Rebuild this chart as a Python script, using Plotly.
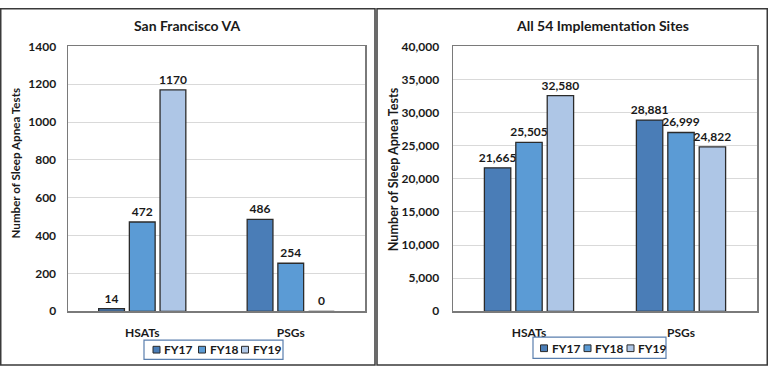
import plotly.graph_objects as go

categories = ["HSATs", "PSGs"]
series_names = ["FY17", "FY18", "FY19"]
sf_values = {"FY17": [14, 486], "FY18": [472, 254], "FY19": [1170, 0]}
all_values = {"FY17": [21665, 28881], "FY18": [25505, 26999], "FY19": [32580, 24822]}
colors = {"FY17": "#4a7db7", "FY18": "#5b9bd5", "FY19": "#aec6e6"}
left_title = "San Francisco VA"
right_title = "All 54 Implementation Sites"
y_title = "Number of Sleep Apnea Tests"

W, H = 768, 373
FONT = "Lato"
TXT = "#1a1a1a"

def px(x):
    return x / W

def py(y):
    return 1 - y / H

fig = go.Figure()
for s in series_names:
    fig.add_trace(go.Bar(
        x=categories, y=sf_values[s], name=s, xaxis="x", yaxis="y",
        marker=dict(color=colors[s], line=dict(color="#2b2b2b", width=1.3)),
        texttemplate="%{y}", textposition="outside", constraintext="none",
        cliponaxis=False, showlegend=False,
        textfont=dict(family=FONT, size=12, color=TXT, weight="bold"),
    ))
for s in series_names:
    fig.add_trace(go.Bar(
        x=categories, y=all_values[s], name=s, xaxis="x2", yaxis="y2",
        marker=dict(color=colors[s], line=dict(color="#2b2b2b", width=1.3)),
        texttemplate="%{y:,}", textposition="outside", constraintext="none",
        cliponaxis=False, showlegend=False,
        textfont=dict(family=FONT, size=12, color=TXT, weight="bold"),
    ))

axis_common = dict(
    showline=True, mirror=True, linecolor="#7a7a7a", linewidth=1.5,
    tickfont=dict(family=FONT, size=12, color=TXT, weight="bold"),
    fixedrange=True,
)
fig.update_layout(
    width=W, height=H,
    margin=dict(l=0, r=0, t=0, b=0),
    paper_bgcolor="white", plot_bgcolor="white",
    barmode="group", bargap=0.38, bargroupgap=0.16,
    showlegend=False,
    xaxis=dict(domain=[px(68), px(365)], anchor="y", ticklabelstandoff=10, **axis_common),
    yaxis=dict(domain=[py(316), py(40)], anchor="x", range=[0, 1400], dtick=200,
               showgrid=True, gridcolor="#d9d9d9", gridwidth=1, ticklabelstandoff=8,
               zeroline=False, **axis_common),
    xaxis2=dict(domain=[px(453), px(757)], anchor="y2", ticklabelstandoff=10, **axis_common),
    yaxis2=dict(domain=[py(316), py(40)], anchor="x2", range=[0, 40000], dtick=5000,
                tickformat=",", showgrid=True, gridcolor="#d9d9d9", gridwidth=1,
                ticklabelstandoff=10, zeroline=False, **axis_common),
)

shapes = []
# panel borders
shapes.append(dict(type="rect", xref="paper", yref="paper", x0=px(0.75), x1=px(375), y0=py(372), y1=py(0.75),
                   line=dict(color="#3a3a3a", width=1.5)))
shapes.append(dict(type="rect", xref="paper", yref="paper", x0=px(377), x1=px(767.25), y0=py(372), y1=py(0.75),
                   line=dict(color="#3a3a3a", width=1.5)))

annotations = []
def label(text, x, y, size, angle=0, xanchor="center"):
    annotations.append(dict(text=text, x=px(x), y=py(y), xref="paper", yref="paper", showarrow=False,
                            xanchor=xanchor, yanchor="middle", textangle=angle,
                            font=dict(family=FONT, size=size, color=TXT, weight="bold")))

label(left_title, 187, 18, 14)
label(right_title, 602, 18, 14)
label(y_title, 15, 162, 11.6, angle=-90)
label(y_title, 393, 168, 12.6, angle=-90)

# manual legends
def legend(box, sq_lefts, cy):
    x0, x1, y0, y1 = box
    shapes.append(dict(type="rect", xref="paper", yref="paper", x0=px(x0), x1=px(x1), y0=py(y1), y1=py(y0),
                       line=dict(color="#5a7fae", width=1.2), fillcolor="white"))
    for s, sx in zip(series_names, sq_lefts):
        shapes.append(dict(type="rect", xref="paper", yref="paper", x0=px(sx), x1=px(sx + 7),
                           y0=py(cy + 3.5), y1=py(cy - 3.5), fillcolor=colors[s],
                           line=dict(color="#2b2b2b", width=1)))
        label(s, sx + 9, cy, 12, xanchor="left")

legend((144, 283, 346, 366), [153, 198.5, 241.5], 356)
legend((533, 666, 343, 365), [540.5, 584, 627], 354.5)

fig.update_layout(shapes=shapes, annotations=annotations)
fig.write_html("out.html", config={"displayModeBar": False, "staticPlot": True},
               post_script="document.body.style.margin='0';document.body.style.overflow='hidden';")
